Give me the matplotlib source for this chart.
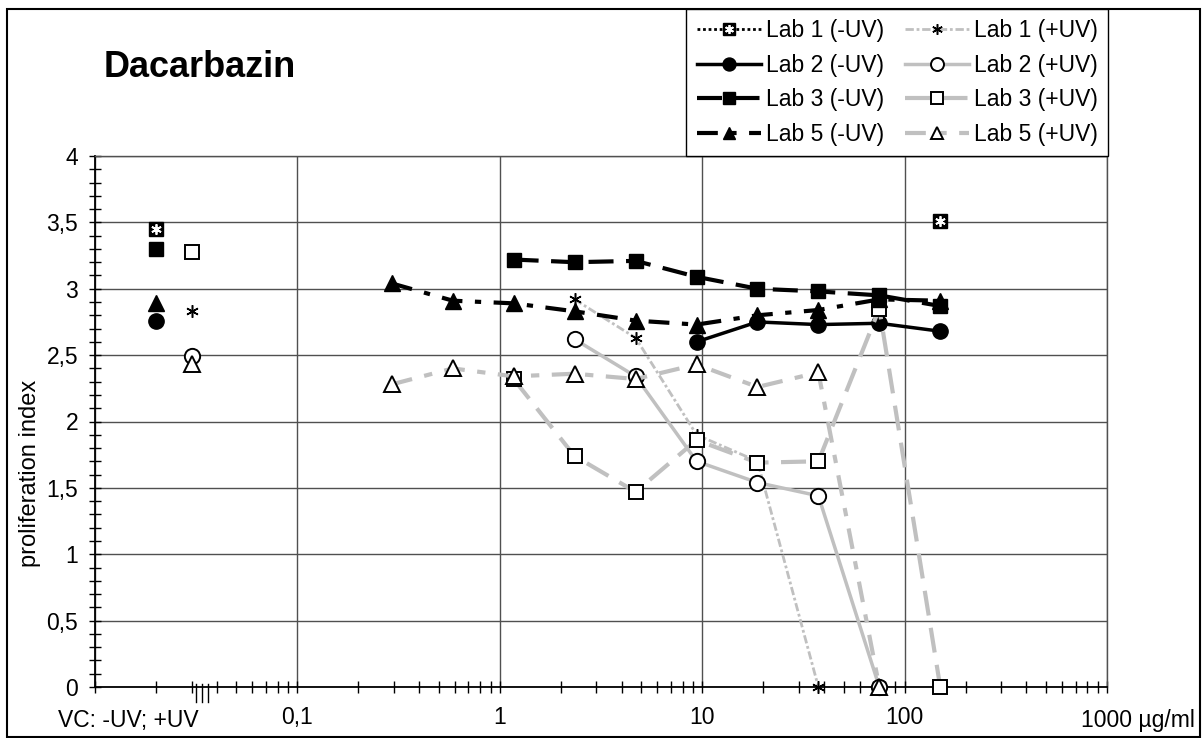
import numpy as np
import matplotlib
matplotlib.use("Agg")
import matplotlib.pyplot as plt
import matplotlib.transforms as mtransforms
from matplotlib.patches import Rectangle
from matplotlib.ticker import FixedLocator, LogLocator, NullFormatter, MultipleLocator, FuncFormatter

plt.rcParams['font.family'] = ['Liberation Sans', 'DejaVu Sans']

nan = np.nan

# concentrations in ug/ml
conc = [0.293, 0.586, 1.17, 2.34, 4.69, 9.38, 18.75, 37.5, 75, 150]

# vehicle control positions on the x axis (-UV, +UV)
vc_x = [0.02, 0.03]

labs = ["Lab 1", "Lab 2", "Lab 3", "Lab 5"]

lab1_minus = [nan, nan, nan, nan, nan, nan, nan, nan, nan, 3.51]
lab1_plus = [nan, nan, nan, 2.92, 2.63, 1.90, 1.70, 0.0, nan, nan]
lab2_minus = [nan, nan, nan, nan, nan, 2.60, 2.75, 2.73, 2.74, 2.68]
lab2_plus = [nan, nan, nan, 2.62, 2.34, 1.70, 1.54, 1.44, 0.0, nan]
lab3_minus = [nan, nan, 3.22, 3.20, 3.21, 3.09, 3.00, 2.98, 2.95, 2.87]
lab3_plus = [nan, nan, 2.32, 1.74, 1.47, 1.86, 1.69, 1.70, 2.85, 0.0]
lab5_minus = [3.04, 2.91, 2.89, 2.83, 2.76, 2.73, 2.80, 2.84, 2.92, 2.91]
lab5_plus = [2.28, 2.40, 2.34, 2.36, 2.32, 2.43, 2.26, 2.37, 0.0, nan]

# vehicle controls per lab
vc_minus = [3.45, 2.76, 3.30, 2.89]
vc_plus = [2.83, 2.49, 3.28, 2.43]

GRAY = '#c0c0c0'

minus_data = [lab1_minus, lab2_minus, lab3_minus, lab5_minus]
plus_data = [lab1_plus, lab2_plus, lab3_plus, lab5_plus]

minus_styles = [
    dict(color='k', ls=(0, (1, 1)), lw=2, marker='s', ms=10, mfc='k', mec='k'),
    dict(color='k', ls='-', lw=2.5, marker='o', ms=11, mfc='k', mec='k'),
    dict(color='k', ls=(0, (6, 3)), lw=3, marker='s', ms=10, mfc='k', mec='k'),
    dict(color='k', ls=(0, (5, 3, 1.5, 3)), lw=3, marker='^', ms=11, mfc='k', mec='k'),
]
plus_styles = [
    dict(color=GRAY, ls=(0, (3, 1, 1, 1)), lw=2, marker=(6, 2, 0), ms=9, mfc='k', mec='k', mew=1.1),
    dict(color=GRAY, ls='-', lw=2.5, marker='o', ms=11, mfc='white', mec='k', mew=1.4),
    dict(color=GRAY, ls=(0, (6, 3)), lw=3, marker='s', ms=10, mfc='white', mec='k', mew=1.4),
    dict(color=GRAY, ls=(0, (5, 3, 2, 3)), lw=3, marker='^', ms=11, mfc='white', mec='k', mew=1.4),
]
star_style = dict(ls='none', marker=(6, 2, 0), ms=7.5, mec='white', mew=1.3)

fig = plt.figure(figsize=(12.02, 7.38), dpi=100)
ax = fig.add_axes([95 / 1202, 1 - 687 / 738, (1107 - 95) / 1202, (687 - 156) / 738])
ax.set_xscale('log')
ax.set_xlim(0.01, 1000)
ax.set_ylim(0, 4)

handles = {}
for i, lab in enumerate(labs):
    for sign, data, vc, st, xv in [('-UV', minus_data[i], vc_minus[i], minus_styles[i], vc_x[0]),
                                   ('+UV', plus_data[i], vc_plus[i], plus_styles[i], vc_x[1])]:
        line, = ax.plot(conc, data, clip_on=False, zorder=3, **st)
        ax.plot([xv], [vc], ls='none', clip_on=False, zorder=3,
                **{k: v for k, v in st.items() if k not in ('ls', 'lw', 'color')})
        h = line
        if i == 0 and sign == '-UV':
            ax.plot(conc, data, clip_on=False, zorder=4, color='white', **star_style)
            ax.plot([xv], [vc], clip_on=False, zorder=4, color='white', **star_style)
            over, = ax.plot([], [], color='white', **star_style)
            h = (line, over)
        handles[f"{lab} ({sign})"] = h

# axis ticks
ax.xaxis.set_major_locator(FixedLocator([0.01, 0.1, 1, 10, 100, 1000]))
ax.set_xticklabels(['', '0,1', '1', '10', '100', ''])
ax.xaxis.set_minor_locator(LogLocator(base=10, subs=np.arange(2, 10), numticks=20))
ax.xaxis.set_minor_formatter(NullFormatter())
ax.yaxis.set_major_locator(MultipleLocator(0.5))
ax.yaxis.set_minor_locator(MultipleLocator(0.1))
ax.yaxis.set_major_formatter(FuncFormatter(lambda v, p: f'{v:g}'.replace('.', ',')))
ax.tick_params(which='both', direction='inout', length=8, width=1, color='k')
ax.tick_params(axis='x', labelsize=16.5, pad=10)
ax.tick_params(axis='y', labelsize=16.5, pad=8)

ax.grid(True, which='major', color='#505050', lw=1)
ax.set_axisbelow(True)
for s in ['left', 'bottom']:
    ax.spines[s].set_linewidth(1.3)
for s in ['top', 'right']:
    ax.spines[s].set_color('#505050')
    ax.spines[s].set_linewidth(1)

ax.annotate('1000 µg/ml', xy=(1000, 0), xycoords=('data', 'axes fraction'),
            xytext=(-26, -40), textcoords='offset pixels', fontsize=16.5, ha='left', va='baseline')

# axis break marks
trans = mtransforms.blended_transform_factory(ax.transData, ax.transAxes)
for xb in [0.0316, 0.0338, 0.0362]:
    ax.plot([xb, xb], [0.006, -0.028], transform=trans, color='k', lw=1, clip_on=False)

fig.text(58 / 1202, 1 - 727 / 738, 'VC: -UV; +UV', fontsize=16.5, va='baseline')
fig.text(30 / 1202, 1 - 473 / 738, 'proliferation index', fontsize=17, rotation=90,
         ha='center', va='center')
fig.text(104 / 1202, 1 - 77 / 738, 'Dacarbazin', fontsize=26, fontweight='bold', va='baseline')

order = [f"{lab} (-UV)" for lab in labs] + [f"{lab} (+UV)" for lab in labs]
leg = fig.legend([handles[k] for k in order], order, ncol=2, loc='upper right',
                 bbox_to_anchor=(1108 / 1202, 1 - 9 / 738), bbox_transform=fig.transFigure,
                 borderaxespad=0, fontsize=16.5, handlelength=2.8, handletextpad=0.22,
                 columnspacing=0.9, labelspacing=0.5, borderpad=0.45,
                 fancybox=False, framealpha=1, edgecolor='k', markerscale=0.85)
leg.get_frame().set_linewidth(1)

fig.patches.append(Rectangle((0.006, 0.002), 0.992, 0.986, transform=fig.transFigure,
                             fill=False, ec='k', lw=1.5))

fig.savefig('out.png', dpi=100)
